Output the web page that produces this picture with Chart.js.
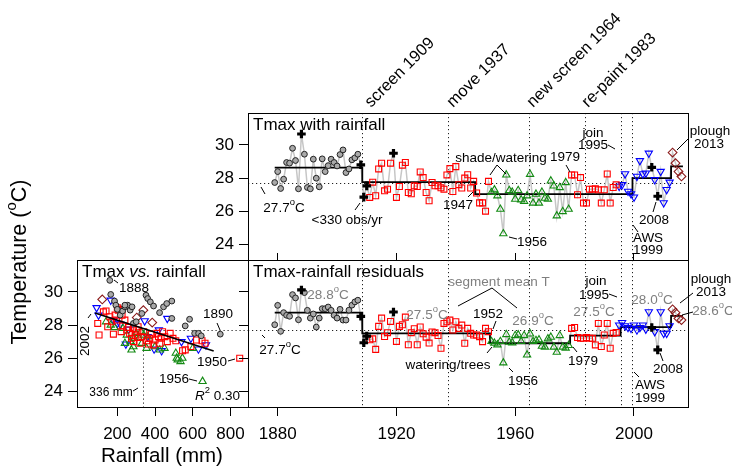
<!DOCTYPE html>
<html>
<head>
<meta charset="utf-8">
<script src="https://cdn.jsdelivr.net/npm/chart.js@4.4.1/dist/chart.umd.min.js"></script>
<style>
  html, body { margin: 0; padding: 0; background: #fff; }
  #wrap { position: relative; width: 732px; height: 466px; overflow: hidden; }
  #wrap canvas { position: absolute; left: 0; top: 0; }
</style>
</head>
<body>
<div id="wrap">
  <canvas id="scatter-chart" width="732" height="466"></canvas>
  <canvas id="raw-chart" width="732" height="466"></canvas>
  <canvas id="resid-chart" width="732" height="466"></canvas>
</div>
<script>
/* ── Data ── */
const firstYear = 1879;

// annual mean Tmax (deg C), 1879-2016
const tmaxRaw = [
  27.73, 28.39, 27.37, 27.93, 28.94, 28.90, 29.80, 29.06, 27.35, 30.66,
  29.44, 27.43, 27.35, 29.14, 27.99, 27.47, 29.16, 28.39, 28.75, 29.14,
  28.94, 28.73, 29.42, 29.70, 28.33, 28.55, 29.10, 29.22, 29.44, 28.80,
  26.85, 27.53, 26.83, 27.75, 26.93, 28.55, 28.90, 27.23, 27.33, 28.90,
  29.50, 26.83, 27.49, 28.78, 28.94, 27.13, 27.05, 27.53, 27.49, 28.37,
  28.03, 27.13, 26.63, 27.73, 27.53, 27.53, 27.41, 27.33, 28.19, 28.57,
  27.19, 28.69, 27.60, 27.40, 28.00, 28.20, 27.40, 27.80, 27.10, 26.50,
  26.50, 26.00, 27.80, 27.13, 27.29, 26.93, 26.12, 24.64, 28.19, 27.25,
  27.15, 26.73, 27.25, 26.69, 26.59, 26.93, 28.23, 26.49, 27.03, 26.49,
  27.15, 26.79, 26.73, 27.83, 27.53, 25.72, 27.43, 25.98, 27.73, 26.12,
  28.19, 28.19, 26.99, 28.03, 26.49, 26.49, 27.33, 27.33, 27.35, 27.29,
  26.49, 27.29, 28.25, 26.49, 27.43, 27.59, 27.50, 27.60, 28.25, 27.20,
  27.05, 26.85, 28.10, 29.05, 28.25, 28.30, 29.50, 28.65, 27.90, 26.90,
  28.40, 26.50, 27.30, 27.75, 29.54, 28.90, 28.39, 28.10
];

// Tmax after removing the rainfall effect, 1879-2016
const tmaxResid = [
  28.02, 29.19, 27.62, 28.75, 28.59, 28.53, 29.84, 29.64, 28.32, 30.12,
  29.96, 28.89, 28.42, 28.67, 27.88, 28.42, 28.99, 28.99, 29.09, 28.89,
  28.59, 28.42, 28.95, 28.30, 28.30, 28.90, 29.20, 29.40, 29.50, 28.53,
  26.93, 27.33, 27.11, 27.17, 26.53, 27.92, 28.42, 27.31, 27.54, 28.22,
  28.79, 27.01, 27.92, 28.02, 28.48, 26.81, 27.54, 27.78, 26.81, 27.88,
  27.47, 27.27, 26.91, 27.58, 27.54, 27.37, 26.60, 28.10, 28.20, 28.30,
  27.70, 28.20, 27.80, 28.00, 26.90, 27.80, 27.50, 27.40, 27.40, 27.30,
  27.00, 27.80, 27.60, 27.01, 26.91, 26.81, 27.01, 25.72, 27.43, 26.97,
  26.93, 27.37, 27.41, 27.01, 27.37, 26.20, 27.47, 27.01, 27.07, 27.11,
  26.73, 26.67, 27.17, 27.27, 26.67, 26.36, 27.37, 26.67, 26.61, 26.77,
  27.80, 27.85, 27.25, 27.20, 27.20, 27.25, 27.20, 27.20, 26.80, 28.10,
  26.70, 27.40, 28.10, 26.60, 27.50, 27.55, 28.00, 28.15, 27.95, 27.85,
  27.80, 28.00, 27.70, 27.85, 28.00, 27.75, 28.80, 27.85, 27.60, 26.50,
  28.80, 27.50, 27.50, 27.95, 28.95, 28.75, 28.40, 28.30
];

const lowObsYears = [1888, 1908, 1909, 1910, 1919, 2006, 2008];

// marker groups (site / screen periods)
const groupFrom = [1879, 1909, 1952, 1979, 1995, 2013];
const groupTo   = [1908, 1951, 1978, 1994, 2012, 2016];

// segment means
const rawStepX   = [1879, 1908.5, 1946.5, 1999.5, 2012.5, 2016.5];
const rawStepT   = [28.63, 27.75, 27.03, 28.0, 28.7];
const residStepX = [1879, 1908.5, 1951.5, 1978.5, 1995.5, 2012.5, 2016.5];
const residStepT = [28.75, 27.5, 26.9, 27.36, 27.87, 28.55];

const eventYears = [1908.5, 1937.5, 1964.5, 1983.5, 1995.5, 1999.5];
const refTemp = 27.7;
const refRain = 336;

const yearTicks = [1880, 1920, 1960, 2000];
const tempTicks = [24, 26, 28, 30];
const rainTicks = [200, 400, 600, 800];

// Tmax vs rainfall, by group
const rainGray = [160, 165, 185, 192, 200, 215, 228, 240, 255, 268, 278, 285, 300, 330, 352,
                  361, 375, 392, 424, 445, 462, 489, 489, 560, 583, 610, 631, 645, 746, 240];
const tmaxGray = [30.7, 29.85, 29.45, 29.2, 28.95, 28.6, 28.85, 29.1, 29.2, 28.9, 29.1, 28.1, 28.2, 28.7, 29.8,
                  29.6, 29.4, 29.15, 28.75, 29.1, 29.3, 29.45, 28.4, 27.95, 28.35, 27.5, 27.5, 27.35, 27.45, 29.2];
const rainRed = [96, 103, 126, 140, 149, 160, 170, 179, 188, 200, 205, 212, 220, 229, 240, 250, 259, 265,
                 275, 285, 294, 300, 310, 320, 330, 340, 356, 365, 372, 380, 390, 400, 410, 418, 425, 432,
                 440, 452, 465, 480, 495, 510, 546, 560, 590, 620, 649, 665, 849, 225, 195, 310, 285];
const tmaxRed = [28.1, 27.4, 28.8, 28.85, 27.9, 28.5, 28.2, 27.45, 28.6, 29.05, 28.9, 28.95, 27.6, 27.95, 28.3, 27.7, 27.85, 27.5,
                 27.2, 27.0, 27.4, 27.7, 27.25, 26.9, 27.3, 27.6, 27.05, 26.85, 27.2, 27.45, 26.8, 27.1, 27.5, 27.3, 26.9, 27.2,
                 27.6, 27.3, 27.0, 27.5, 27.2, 27.05, 26.45, 26.5, 26.7, 27.1, 27.05, 26.9, 26.0, 28.6, 28.3, 27.9, 27.8];
const rainGreen = [140, 165, 185, 230, 240, 250, 270, 275, 285, 290, 300, 315, 325, 330,
                   340, 355, 362, 400, 425, 450, 510, 515, 520, 535, 545, 600, 652];
const tmaxGreen = [28.2, 28.0, 27.85, 27.8, 26.9, 27.4, 27.0, 26.5, 26.7, 27.2, 27.5, 27.2, 27.6, 26.9,
                   27.4, 26.6, 27.3, 26.7, 26.5, 26.6, 26.3, 26.0, 25.9, 25.8, 26.0, 26.6, 24.6];
const rainBlue = [90, 100, 165, 180, 200, 215, 245, 260, 345, 360, 395, 420, 435, 465, 540, 590, 630, 670];
const tmaxBlue = [29.05, 28.6, 29.5, 28.3, 28.1, 28.05, 26.85, 27.75, 28.25, 27.3, 26.55, 27.7, 26.45, 28.4, 27.0, 27.2, 26.55, 26.8];
const rainBrown = [120, 338, 303, 385];
const tmaxBrown = [29.55, 28.9, 28.45, 28.15];

// least-squares fit, R2 0.30
const fitRain = [81, 711];
const fitTmax = [28.73, 26.43];

/* ── Look ── */
const FONT = '"Liberation Sans", Arial, Helvetica, sans-serif';
const GREY = '#7f7f7f';
const tMin = 23.05, tMax = 31.93;
const yearMin = 1870, yearMax = 2018.2;
const rainMin = -14, rainMax = 893;

const markerStyles = [
  { pointStyle: 'circle', pointRadius: 2.9, pointBackgroundColor: '#a9a9a9', pointBorderColor: '#222', pointBorderWidth: 1 },
  { pointStyle: 'rect', pointRadius: 4.2, pointBackgroundColor: 'rgba(0,0,0,0)', pointBorderColor: '#ff0000', pointBorderWidth: 1.1 },
  { pointStyle: 'triangle', pointRadius: 4.2, pointBackgroundColor: 'rgba(0,0,0,0)', pointBorderColor: '#138a13', pointBorderWidth: 1.1 },
  { pointStyle: 'rect', pointRadius: 4.2, pointBackgroundColor: 'rgba(0,0,0,0)', pointBorderColor: '#ff0000', pointBorderWidth: 1.1 },
  { pointStyle: 'triangle', pointRotation: 180, pointRadius: 4.2, pointBackgroundColor: 'rgba(0,0,0,0)', pointBorderColor: '#0000ff', pointBorderWidth: 1.1 },
  { pointStyle: 'rectRot', pointRadius: 4.4, pointBackgroundColor: 'rgba(0,0,0,0)', pointBorderColor: '#8b1a1a', pointBorderWidth: 1.1 }
];

/* ── text helpers ── */
function parseRich(str) {
  const out = [];
  const re = /\{([^}]*)\}|\*([^*]*)\*|([^{*]+)/g;
  let m;
  while ((m = re.exec(str))) {
    if (m[1] !== undefined) out.push([m[1], 'sup']);
    else if (m[2] !== undefined) out.push([m[2], 'i']);
    else out.push([m[3], '']);
  }
  return out;
}

function rich(ctx, str, x, y, size, color, align, rot, baseline) {
  const segs = parseRich(str);
  const fontFor = k => (k === 'i' ? 'italic ' : '') + (k === 'sup' ? size * 0.7 : size) + 'px ' + FONT;
  let w = 0;
  segs.forEach(([t, k]) => { ctx.font = fontFor(k); w += ctx.measureText(t).width; });
  ctx.save();
  ctx.translate(x, y);
  if (rot) ctx.rotate(rot);
  let cx = align === 'center' ? -w / 2 : align === 'right' ? -w : 0;
  ctx.fillStyle = color || '#000';
  ctx.textAlign = 'left';
  ctx.textBaseline = baseline || 'middle';
  segs.forEach(([t, k]) => {
    ctx.font = fontFor(k);
    ctx.fillText(t, cx, k === 'sup' ? -size * 0.38 : 0);
    cx += ctx.measureText(t).width;
  });
  ctx.restore();
}

function drawLabels(ctx, labels) {
  labels.forEach(l => rich(ctx, l[0], l[1], l[2], l[3] || 13.5, l[4] || '#000', l[5] || 'center', l[6] || 0));
}

function drawLeaders(ctx, lines) {
  ctx.save();
  ctx.strokeStyle = '#000';
  ctx.lineWidth = 1;
  lines.forEach(([x1, y1, x2, y2]) => {
    ctx.beginPath(); ctx.moveTo(x1, y1); ctx.lineTo(x2, y2); ctx.stroke();
  });
  ctx.restore();
}

function drawBox(chart) {
  const a = chart.chartArea, ctx = chart.ctx;
  ctx.save();
  ctx.strokeStyle = '#000';
  ctx.lineWidth = 1;
  const l = Math.round(a.left) + 0.5, t = Math.round(a.top) + 0.5;
  ctx.strokeRect(l, t, Math.round(a.right) - Math.round(a.left), Math.round(a.bottom) - Math.round(a.top));
  ctx.restore();
}

function dotted(ctx, x1, y1, x2, y2) {
  ctx.save();
  ctx.strokeStyle = '#222';
  ctx.lineWidth = 1;
  ctx.setLineDash([1.2, 2.8]);
  ctx.beginPath(); ctx.moveTo(x1, y1); ctx.lineTo(x2, y2); ctx.stroke();
  ctx.restore();
}

function timeGuides(chart) {
  const a = chart.chartArea, x = chart.scales.x, y = chart.scales.y;
  eventYears.forEach(yr => {
    const px = Math.round(x.getPixelForValue(yr)) + 0.5;
    dotted(chart.ctx, px, a.top, px, a.bottom);
  });
  const py = Math.round(y.getPixelForValue(refTemp)) + 0.5;
  dotted(chart.ctx, a.left, py, a.right, py);
}

function overlay(under, over) {
  return {
    id: 'overlay',
    beforeDatasetsDraw(chart) { if (under) under(chart); },
    afterDraw(chart) { over(chart); }
  };
}

/* ── axes ── */
function tickFont() { return { family: FONT, size: 17 }; }

function yAxis(width, showLabels) {
  return {
    type: 'linear', position: 'left', min: tMin, max: tMax,
    afterFit: s => { s.width = width; },
    afterBuildTicks: s => { s.ticks = tempTicks.map(v => ({ value: v })); },
    ticks: { display: showLabels, font: tickFont(), color: '#000', padding: 5, callback: v => String(v) },
    grid: { drawOnChartArea: false, tickLength: 9, color: '#000' },
    border: { display: false }
  };
}

function xAxis(min, max, ticksArr, position, height, showLabels) {
  return {
    type: 'linear', position, min, max,
    afterFit: s => { s.height = height; },
    afterBuildTicks: s => { s.ticks = ticksArr.map(v => ({ value: v })); },
    ticks: { display: showLabels, font: tickFont(), color: '#000', padding: 8, maxRotation: 0, autoSkip: false, callback: v => String(v) },
    grid: { drawOnChartArea: false, tickLength: position === 'top' ? 7 : 9, color: '#000' },
    border: { display: false }
  };
}

const common = {
  responsive: false,
  animation: false,
  devicePixelRatio: 1,
  plugins: { legend: { display: false }, tooltip: { enabled: false } }
};

/* ── datasets ── */
function timeSeriesSets(values, stepX, stepT) {
  const pts = values.map((v, i) => ({ x: firstYear + i, y: v }));
  const sets = [
    { type: 'line', data: pts, borderColor: '#c6c6c6', borderWidth: 1.5, pointRadius: 0, order: 9 },
    { type: 'line', data: stepX.map((x, i) => ({ x, y: stepT[Math.min(i, stepT.length - 1)] })),
      stepped: 'before', borderColor: '#000', borderWidth: 1.8, pointRadius: 0, order: 8 }
  ];
  groupFrom.forEach((from, g) => {
    sets.push({
      data: pts.filter(p => p.x >= from && p.x <= groupTo[g] && !lowObsYears.includes(p.x)),
      ...markerStyles[g], order: 2
    });
  });
  sets.push({
    data: pts.filter(p => lowObsYears.includes(p.x)),
    pointStyle: 'cross', pointRadius: 4.3, pointBorderColor: '#000', pointBorderWidth: 3.2, order: 1
  });
  return sets;
}

function pairs(xs, ys) { return xs.map((x, i) => ({ x, y: ys[i] })); }

/* ── annotations ── */
const rawLabels = [
  ['Tmax with rainfall', 253, 125, 17, '#000', 'left'],
  ['27.7{o}C', 284, 208], ['<330 obs/yr', 347, 220], ['1947', 458, 205],
  ['shade/watering', 501, 158], ['1979', 565, 157], ['1956', 532, 242],
  ['join', 593, 133], ['1995', 593, 145], ['2008', 654, 220],
  ['AWS', 648, 238], ['1999', 648, 250], ['plough', 710, 131], ['2013', 709, 144]
];
const rawLeaders = [
  [261, 187, 265, 194], [355, 210, 360, 203], [468, 197, 473, 192],
  [497, 165, 490, 175], [497, 165, 506, 174], [566, 165, 570, 172],
  [509, 237, 517, 239], [608, 145, 615, 149], [656, 202, 653, 212],
  [633, 225, 638, 232], [689, 138, 677, 150]
];
const eventLabels = [
  ['screen 1909', 371, 108], ['move 1937', 453, 108],
  ['new screen 1964', 533, 108], ['re-paint 1983', 588, 108]
];

const residLabels = [
  ['Tmax-rainfall residuals', 253, 272, 17, '#000', 'left'],
  ['28.8{o}C', 328, 295, 13.5, GREY], ['27.7{o}C', 280, 350], ['27.5{o}C', 427, 315, 13.5, GREY],
  ['segment mean T', 499, 282, 13.5, GREY], ['1952', 488, 314], ['26.9{o}C', 533, 321, 13.5, GREY],
  ['watering/trees', 448, 365], ['1956', 523, 381], ['27.5{o}C', 594, 312, 13.5, GREY],
  ['join', 596, 281], ['1995', 594, 295], ['1979', 583, 361], ['28.0{o}C', 652, 300, 13.5, GREY],
  ['plough', 711, 279], ['2013', 711, 292], ['28.6{o}C', 713, 311, 13.5, GREY],
  ['2008', 668, 369], ['AWS', 650, 385], ['1999', 650, 398]
];
const residLeaders = [
  [262, 335, 265, 338], [458, 306, 492, 288], [492, 288, 517, 308], [496, 321, 493, 329],
  [487, 353, 492, 347], [509, 368, 513, 372], [609, 294, 617, 297], [573, 347, 577, 352],
  [693, 293, 680, 303], [682, 315, 693, 312], [660, 353, 663, 361], [634, 372, 639, 377]
];

const scatterLabels = [
  ['Tmax *vs.* rainfall', 82, 272, 17, '#000', 'left'],
  ['1888', 134, 288], ['1890', 218, 314], ['1950', 212, 362], ['1956', 174, 379],
  ['336 mm', 111, 393, 12], ['*R*{2} 0.30', 240, 396, 13.5, '#000', 'right'],
  ['2002', 85, 341, 13.5, '#000', 'center', -Math.PI / 2],
  ['Temperature ({o}C)', 20, 262, 21.5, '#000', 'center', -Math.PI / 2],
  ['Rainfall (mm)', 162, 456, 20.5]
];
const scatterLeaders = [
  [114, 280, 118, 283], [217, 323, 220, 330], [228, 361, 235, 359],
  [189, 379, 197, 381], [133, 391, 138, 388], [88, 318, 91, 314]
];

/* ── Charts ── */
new Chart(document.getElementById('raw-chart'), {
  type: 'scatter',
  data: { datasets: timeSeriesSets(tmaxRaw, rawStepX, rawStepT) },
  options: {
    ...common,
    layout: { padding: { left: 198, top: 113, right: 44, bottom: 206 } },
    scales: {
      x: { type: 'linear', min: yearMin, max: yearMax, display: false },
      y: yAxis(50, true)
    }
  },
  plugins: [overlay(timeGuides, chart => {
    drawBox(chart);
    drawLabels(chart.ctx, rawLabels);
    drawLeaders(chart.ctx, rawLeaders);
    eventLabels.forEach(l => rich(chart.ctx, l[0], l[1], l[2], 16.5, '#000', 'left', -Math.PI / 4, 'alphabetic'));
  })]
});

new Chart(document.getElementById('resid-chart'), {
  type: 'scatter',
  data: { datasets: timeSeriesSets(tmaxResid, residStepX, residStepT) },
  options: {
    ...common,
    layout: { padding: { left: 239, top: 253, right: 44, bottom: 19 } },
    scales: {
      x: xAxis(yearMin, yearMax, yearTicks, 'bottom', 40, true),
      x2: xAxis(yearMin, yearMax, yearTicks, 'top', 7, false),
      y: yAxis(9, false)
    }
  },
  plugins: [overlay(timeGuides, chart => {
    drawBox(chart);
    drawLabels(chart.ctx, residLabels);
    drawLeaders(chart.ctx, residLeaders);
  })]
});

new Chart(document.getElementById('scatter-chart'), {
  type: 'scatter',
  data: {
    datasets: [
      { type: 'line', data: pairs(fitRain, fitTmax), borderColor: '#000', borderWidth: 1.5, pointRadius: 0, order: 0 },
      { data: pairs(rainGray, tmaxGray), ...markerStyles[0], order: 2 },
      { data: pairs(rainRed, tmaxRed), ...markerStyles[1], order: 2 },
      { data: pairs(rainGreen, tmaxGreen), ...markerStyles[2], order: 2 },
      { data: pairs(rainBlue, tmaxBlue), ...markerStyles[4], order: 2 },
      { data: pairs(rainBrown, tmaxBrown), ...markerStyles[5], order: 2 }
    ]
  },
  options: {
    ...common,
    layout: { padding: { left: 27, top: 260, right: 484, bottom: 19 } },
    scales: {
      x: xAxis(rainMin, rainMax, rainTicks, 'bottom', 40, true),
      y: yAxis(50, true)
    }
  },
  plugins: [overlay(chart => {
    const a = chart.chartArea, x = chart.scales.x, y = chart.scales.y;
    const px = Math.round(x.getPixelForValue(refRain)) + 0.5;
    const py = Math.round(y.getPixelForValue(refTemp)) + 0.5;
    dotted(chart.ctx, px, py, px, a.bottom);
    dotted(chart.ctx, px, py, a.right, py);
  }, chart => {
    drawBox(chart);
    drawLabels(chart.ctx, scatterLabels);
    drawLeaders(chart.ctx, scatterLeaders);
  })]
});
</script>
</body>
</html>
